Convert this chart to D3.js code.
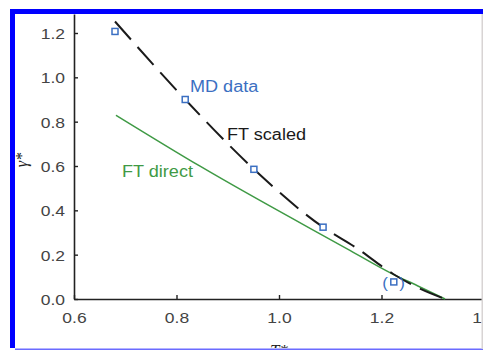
<!DOCTYPE html>
<html>
<head>
<meta charset="utf-8">
<script src="https://cdn.jsdelivr.net/npm/d3@7"></script>
<style>
html,body{margin:0;padding:0;background:#fff;overflow:hidden;}
svg{display:block;font-family:"Liberation Sans",Arial,sans-serif;}
</style>
</head>
<body>
<svg id="chart" width="483" height="351"></svg>
<script>
// ---- data ----
const xTicks = [0.6, 0.8, 1.0, 1.2, 1.4];
const yTicks = [0.0, 0.2, 0.4, 0.6, 0.8, 1.0, 1.2];
const mdT = [0.68, 0.817, 0.951, 1.086, 1.224];
const mdGamma = [1.207, 0.90, 0.585, 0.324, 0.077];
const scaledT = [0.68, 0.817, 0.951, 1.086, 1.15, 1.222, 1.27, 1.324];
const scaledGamma = [1.252, 0.90, 0.586, 0.324, 0.232, 0.114, 0.052, 0.0];
const directT = [0.682, 0.846, 1.133, 1.222, 1.27, 1.324];
const directGamma = [0.829, 0.599, 0.226, 0.112, 0.060, 0.0];

const svg = d3.select("#chart");
const x = d3.scaleLinear().domain([0.6, 1.4]).range([74, 484]);
const y = d3.scaleLinear().domain([0, 1.2857]).range([299, 14]);
const SX = 1.13;

// axes
const xAxis = d3.axisBottom(x).tickValues(xTicks).tickSize(-4).tickSizeOuter(0)
  .tickFormat(d3.format(".1f"));
const gx = svg.append("g").attr("transform", "translate(0,299)").call(xAxis);
gx.select(".domain").attr("stroke", "#222").attr("stroke-width", 1.6);
gx.selectAll(".tick line").attr("stroke", "#222").attr("stroke-width", 1.4);
gx.selectAll(".tick text").attr("font-size", 15.5).attr("fill", "#444")
  .attr("font-family", "Liberation Sans, Arial, sans-serif")
  .attr("y", 0).attr("dy", 0)
  .attr("transform", "translate(0,24) scale(" + SX + ",1)");

const yAxis = d3.axisLeft(y).tickValues(yTicks).tickSize(-4).tickSizeOuter(0)
  .tickFormat(d3.format(".1f"));
const gy = svg.append("g").attr("transform", "translate(74,0)").call(yAxis);
gy.select(".domain").attr("stroke", "#222").attr("stroke-width", 1.6);
gy.selectAll(".tick line").attr("stroke", "#222").attr("stroke-width", 1.4);
gy.selectAll(".tick text").attr("font-size", 15.5).attr("fill", "#444")
  .attr("font-family", "Liberation Sans, Arial, sans-serif")
  .attr("x", 0).attr("dy", "0.35em")
  .attr("transform", "translate(-9,0) scale(" + SX + ",1)");

// lines
const line = d3.line().x(d => x(d[0])).y(d => y(d[1])).curve(d3.curveMonotoneX);
svg.append("path").datum(directT.map((t, i) => [t, directGamma[i]]))
  .attr("d", line).attr("fill", "none").attr("stroke", "#3f9a45").attr("stroke-width", 1.5);
svg.append("path").datum(scaledT.map((t, i) => [t, scaledGamma[i]]))
  .attr("d", line).attr("fill", "none").attr("stroke", "#1a1a1a").attr("stroke-width", 2)
  .attr("stroke-dasharray", "24,10");

// MD squares
svg.selectAll("rect.md").data(mdT.map((t, i) => [t, mdGamma[i]])).enter()
  .append("rect").attr("class", "md")
  .attr("x", d => x(d[0]) - 3).attr("y", d => y(d[1]) - 3)
  .attr("width", 6).attr("height", 6)
  .attr("fill", "#fff").attr("stroke", "#3b6fc2").attr("stroke-width", 1.5);

// labels
function label(txt, px, py, color, size, anchor) {
  svg.append("text").text(txt)
    .attr("transform", "translate(" + px + "," + py + ") scale(" + SX + ",1)")
    .attr("fill", color).attr("font-size", size).attr("text-anchor", anchor || "start");
}
label("MD data", 190, 92, "#3b6fc2", 16);
label("FT scaled", 227, 140, "#1a1a1a", 16);
label("FT direct", 122, 177, "#3f9a45", 16);
label("(", 385, 288, "#3b6fc2", 15, "middle");
label(")", 402, 288, "#3b6fc2", 15, "middle");

// axis titles
svg.append("text").text("T*").attr("x", 279).attr("y", 356)
  .attr("text-anchor", "middle").attr("font-style", "italic")
  .attr("font-family", "Liberation Serif, serif").attr("font-size", 17).attr("fill", "#222");
svg.append("text").text("γ*").attr("transform", "translate(27,160) rotate(-90)")
  .attr("text-anchor", "middle").attr("font-style", "italic")
  .attr("font-family", "Liberation Serif, serif").attr("font-size", 16).attr("fill", "#222");

// frame
svg.append("rect").attr("x", 10).attr("y", 9).attr("width", 5).attr("height", 342).attr("fill", "#0000ff");
svg.append("rect").attr("x", 10).attr("y", 9).attr("width", 473).attr("height", 5).attr("fill", "#0000ff");
svg.append("rect").attr("x", 10).attr("y", 348).attr("width", 473).attr("height", 3).attr("fill", "#fff");
svg.append("rect").attr("x", 15).attr("y", 348.5).attr("width", 468).attr("height", 1.5).attr("fill", "#6b6bff");
svg.append("rect").attr("x", 481.5).attr("y", 14).attr("width", 1.5).attr("height", 335).attr("fill", "#d8d4d4");
</script>
</body>
</html>
